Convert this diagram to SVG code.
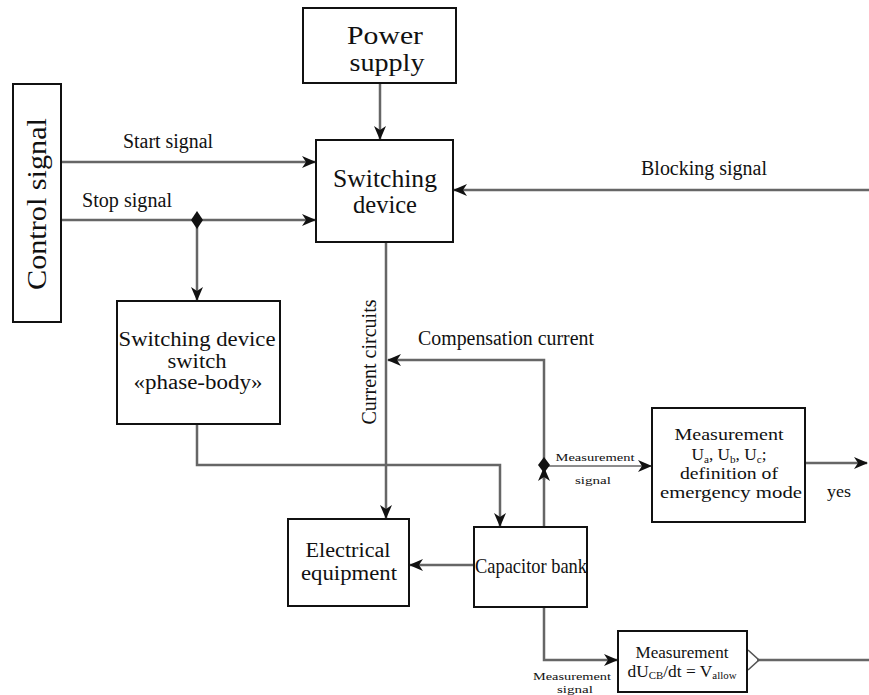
<svg xmlns="http://www.w3.org/2000/svg" width="869" height="695" viewBox="0 0 869 695" font-family="'Liberation Serif', 'DejaVu Serif', serif">
  <defs>
    <marker id="arr" viewBox="0 0 14 12" refX="13" refY="6" markerWidth="14" markerHeight="12" markerUnits="userSpaceOnUse" orient="auto">
      <path d="M0,0 L14,6 L0,12 L4,6 Z" fill="#111"/>
    </marker>
  </defs>
  <style>
    .box { fill: #fff; stroke: #111; stroke-width: 2; }
    .ln { fill: none; stroke: #666; stroke-width: 2.5; }
    text { font-family: 'Liberation Serif', 'DejaVu Serif', serif; fill: #111; text-anchor: middle; }
    .lbl { font-size: 20px; }
    .big { font-size: 25px; }
    .mid { font-size: 20px; }
    .m17 { font-size: 17px; }
    .m16 { font-size: 16px; }
    .sm { font-size: 11px; }
    .dia { fill: #111; }
  </style>

  <rect width="869" height="695" fill="#fff"/>

  <!-- connectors -->
  <g id="connectors">
    <path class="ln" d="M380,84 V139" marker-end="url(#arr)"/>
    <path class="ln" d="M61,162 H315" marker-end="url(#arr)"/>
    <path class="ln" d="M61,220 H315" marker-end="url(#arr)"/>
    <path class="ln" d="M197,220 V300" marker-end="url(#arr)"/>
    <path class="ln" d="M869,190 H454" marker-end="url(#arr)"/>
    <path class="ln" d="M386,243 V518" marker-end="url(#arr)"/>
    <path class="ln" d="M544,527 V360 H388" marker-end="url(#arr)"/>
    <path class="ln" d="M544,480 V468" marker-end="url(#arr)"/>
    <path class="ln" d="M197,424 V465 H500 V526" marker-end="url(#arr)"/>
    <path class="ln" d="M473,565 H410" marker-end="url(#arr)"/>
    <path class="ln" style="stroke-width:1.6" d="M544,466 H651" marker-end="url(#arr)"/>
    <path class="ln" d="M806,463 H867" marker-end="url(#arr)"/>
    <path class="ln" d="M544,608 V660 H617" marker-end="url(#arr)"/>
    <path class="ln" d="M757,660 H869"/>
    <path fill="none" stroke="#555" stroke-width="1.6" d="M748,650 L759,660 L748,670"/>
    <path class="dia" d="M197,211 L203,220 L197,229 L191,220 Z"/>
    <path class="dia" d="M544,457 L550,465 L544,473 L538,465 Z"/>
  </g>

  <!-- connector labels -->
  <g id="labels">
    <text class="lbl" x="168" y="148" textLength="90" lengthAdjust="spacingAndGlyphs">Start signal</text>
    <text class="lbl" x="127" y="207" textLength="90" lengthAdjust="spacingAndGlyphs">Stop signal</text>
    <text class="lbl" x="704" y="175" textLength="126" lengthAdjust="spacingAndGlyphs">Blocking signal</text>
    <text class="lbl" x="506" y="345" textLength="176" lengthAdjust="spacingAndGlyphs">Compensation current</text>
    <text class="lbl" transform="translate(376,362) rotate(-90)" textLength="125" lengthAdjust="spacingAndGlyphs">Current circuits</text>
    <text class="sm" x="595" y="461" textLength="79" lengthAdjust="spacingAndGlyphs">Measurement</text>
    <text class="sm" x="593" y="484" textLength="36" lengthAdjust="spacingAndGlyphs">signal</text>
    <text class="m17" x="839" y="497" textLength="24" lengthAdjust="spacingAndGlyphs">yes</text>
    <text class="sm" x="572" y="680" textLength="78" lengthAdjust="spacingAndGlyphs">Measurement</text>
    <text class="sm" x="575" y="693" textLength="36" lengthAdjust="spacingAndGlyphs">signal</text>
  </g>

  <g id="power-supply">
    <rect class="box" x="303" y="8" width="153" height="75"/>
    <text class="big" x="385" y="44" textLength="76" lengthAdjust="spacingAndGlyphs">Power</text>
    <text class="big" x="387" y="71" textLength="75" lengthAdjust="spacingAndGlyphs">supply</text>
  </g>

  <g id="control-signal">
    <rect class="box" x="13" y="84" width="48" height="238"/>
    <text style="font-size:27px" transform="translate(46,204) rotate(-90)" textLength="172" lengthAdjust="spacingAndGlyphs">Control signal</text>
  </g>

  <g id="switching-device">
    <rect class="box" x="316" y="140" width="137" height="102"/>
    <text class="big" x="385" y="187" textLength="104" lengthAdjust="spacingAndGlyphs">Switching</text>
    <text class="big" x="385" y="213" textLength="64" lengthAdjust="spacingAndGlyphs">device</text>
  </g>

  <g id="phase-body-switch">
    <rect class="box" x="117" y="301" width="163" height="123"/>
    <text class="mid" x="197" y="346" textLength="157" lengthAdjust="spacingAndGlyphs">Switching device</text>
    <text class="mid" x="197" y="368" textLength="59" lengthAdjust="spacingAndGlyphs">switch</text>
    <text class="mid" x="198" y="389" textLength="129" lengthAdjust="spacingAndGlyphs">«phase-body»</text>
  </g>

  <g id="electrical-equipment">
    <rect class="box" x="288" y="519" width="121" height="87"/>
    <text class="mid" x="348" y="557" textLength="85" lengthAdjust="spacingAndGlyphs">Electrical</text>
    <text class="mid" x="349" y="580" textLength="96" lengthAdjust="spacingAndGlyphs">equipment</text>
  </g>

  <g id="capacitor-bank">
    <rect class="box" x="474" y="527" width="113" height="80"/>
    <text style="font-size:22px; text-anchor:start" x="475" y="573" textLength="112" lengthAdjust="spacingAndGlyphs">Capacitor bank</text>
  </g>

  <g id="emergency-mode">
    <rect class="box" x="652" y="408" width="153" height="114"/>
    <text class="m17" x="729" y="440" textLength="109" lengthAdjust="spacingAndGlyphs">Measurement</text>
    <text class="m17" x="729" y="460" textLength="75" lengthAdjust="spacingAndGlyphs">U<tspan font-size="11" dy="3">a</tspan><tspan dy="-3">, U</tspan><tspan font-size="11" dy="3">b</tspan><tspan dy="-3">, U</tspan><tspan font-size="11" dy="3">c</tspan><tspan dy="-3">;</tspan></text>
    <text class="m17" x="729" y="479" textLength="98" lengthAdjust="spacingAndGlyphs">definition of</text>
    <text class="m17" x="731" y="498" textLength="142" lengthAdjust="spacingAndGlyphs">emergency mode</text>
  </g>

  <g id="voltage-rate">
    <rect class="box" x="618" y="631" width="129" height="61"/>
    <text class="m16" x="682" y="658" textLength="93" lengthAdjust="spacingAndGlyphs">Measurement</text>
    <text class="m16" x="682" y="677" textLength="109" lengthAdjust="spacingAndGlyphs">dU<tspan font-size="10" dy="2">CB</tspan><tspan dy="-2">/dt = V</tspan><tspan font-size="10" dy="2">allow</tspan></text>
  </g>
</svg>
